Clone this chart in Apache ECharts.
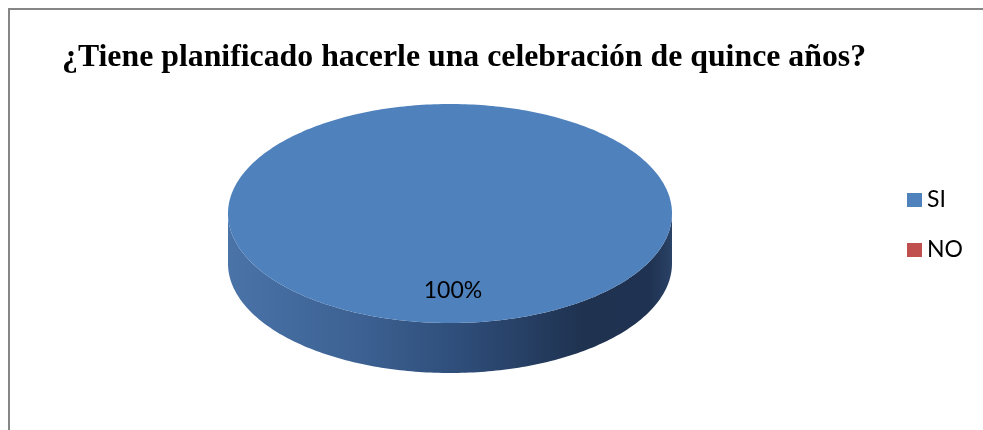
<!DOCTYPE html>
<html>
<head>
<meta charset="utf-8">
<script src="https://cdn.jsdelivr.net/npm/echarts@6/dist/echarts.min.js"></script>
<style>
  html, body { margin: 0; padding: 0; background: #fff; }
  #chart { width: 983px; height: 430px; }
</style>
</head>
<body>
<div id="chart"></div>
<script>
var titleText = "¿Tiene planificado hacerle una celebración de quince años?";
var categories = ["SI", "NO"];
var values = [100, 0];
var colors = ["#4f81bd", "#c0504d"];

// layout of the tilted pie
var pieCx = 450, pieCy = 213.5, pieRx = 222, pieRy = 109.5, pieDepth = 50;

var total = values.reduce(function (a, b) { return a + b; }, 0);

function ellipsePt(theta, dy) {
  // theta: radians clockwise from 12 o'clock
  return [pieCx + pieRx * Math.sin(theta), pieCy - pieRy * Math.cos(theta) + (dy || 0)];
}

function arcPts(a1, a2, dy) {
  var pts = [];
  var steps = Math.max(2, Math.ceil(Math.abs(a2 - a1) / (Math.PI / 180)));
  for (var i = 0; i <= steps; i++) {
    pts.push(ellipsePt(a1 + (a2 - a1) * i / steps, dy));
  }
  return pts;
}

function makeRender(idx) {
  return function (params, api) {
    var v = api.value(0);
    if (!v) return { type: 'group', children: [] };
    var before = 0;
    for (var i = 0; i < idx; i++) before += values[i];
    var a1 = before / total * Math.PI * 2;
    var a2 = (before + v) / total * Math.PI * 2;
    var children = [];

    // front wall (visible between 3 and 9 o'clock)
    var s = Math.max(a1, Math.PI / 2), e = Math.min(a2, Math.PI * 1.5);
    if (e > s) {
      var top = arcPts(s, e, 0);
      var bottom = arcPts(e, s, pieDepth);
      var side = idx === 0 ? [
        { offset: 0, color: '#4a73a8' },
        { offset: 0.3, color: '#3c6192' },
        { offset: 0.55, color: '#2d4b76' },
        { offset: 0.8, color: '#1f3250' },
        { offset: 0.95, color: '#1f3251' },
        { offset: 1, color: '#2a4266' }
      ] : [
        { offset: 0, color: '#a33f3c' },
        { offset: 1, color: '#5a1f1e' }
      ];
      children.push({
        type: 'polygon',
        z2: 1,
        shape: { points: top.concat(bottom) },
        style: {
          fill: {
            type: 'linear', global: true,
            x: pieCx - pieRx, y: 0, x2: pieCx + pieRx, y2: 0,
            colorStops: side
          }
        }
      });
    }

    // top face
    var face = arcPts(a1, a2, 0);
    if (a2 - a1 < Math.PI * 2 - 1e-6) face.push([pieCx, pieCy]);
    children.push({
      type: 'polygon',
      z2: 5,
      shape: { points: face },
      style: { fill: colors[idx] }
    });

    // percent label
    var mid = (a1 + a2) / 2;
    children.push({
      type: 'text',
      z2: 10,
      style: {
        x: pieCx + pieRx * 0.7 * Math.sin(mid) + 3,
        y: pieCy - pieRy * 0.7 * Math.cos(mid),
        text: Math.round(v / total * 100) + '%',
        fill: '#000',
        font: '23px Lato',
        align: 'center',
        verticalAlign: 'middle'
      }
    });
    return { type: 'group', children: children };
  };
}

var series = categories.map(function (name, i) {
  return {
    name: name,
    type: 'custom',
    coordinateSystem: 'none',
    itemStyle: { color: colors[i] },
    data: [values[i]],
    renderItem: makeRender(i)
  };
});

var chart = echarts.init(document.getElementById('chart'), null, { renderer: 'canvas' });
chart.setOption({
  animation: false,
  title: {
    text: titleText,
    left: 57,
    top: 37,
    textStyle: {
      fontFamily: 'Liberation Serif',
      fontWeight: 'bold',
      fontSize: 31.8,
      color: '#000'
    }
  },
  legend: {
    orient: 'vertical',
    left: 907,
    top: 188,
    padding: 0,
    icon: 'rect',
    itemWidth: 15,
    itemHeight: 14,
    itemGap: 26,
    data: categories,
    textStyle: { fontFamily: 'Lato', fontSize: 23, lineHeight: 24, color: '#000' }
  },
  graphic: [
    {
      type: 'polyline',
      shape: { points: [[9, 430], [9, 9], [983, 9]] },
      style: { stroke: '#868686', lineWidth: 2, fill: null }
    }
  ],
  series: series
});
</script>
</body>
</html>
